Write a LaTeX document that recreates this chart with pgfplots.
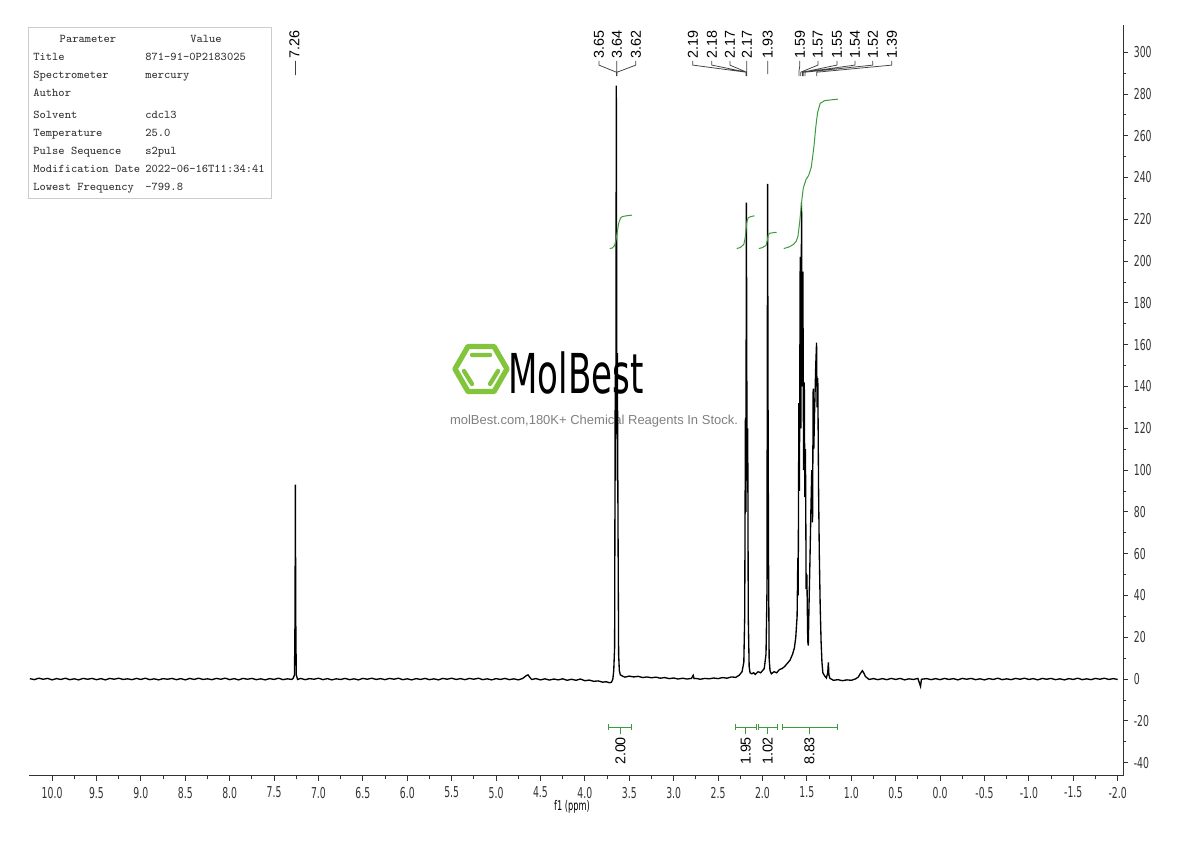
\documentclass[border=0pt]{standalone}
\usepackage{fontspec}
\usepackage{pgfplots}
\pgfplotsset{compat=1.18}
\newfontfamily\condfont{DejaVu Sans}[FakeStretch=0.62]
\newfontfamily\labfont{Liberation Sans}
\definecolor{intgreen}{RGB}{60,155,60}
\definecolor{logogreen}{RGB}{130,196,60}

\begin{document}
\begin{tikzpicture}
\path[use as bounding box] (0,0) rectangle (714pt,504.6pt);

% watermark + parameter box, in pixel units of the reference
\begin{scope}[x=0.6pt,y=-0.6pt,yshift=504.6pt]
  \draw[logogreen,line width=3.2pt,line join=round]
    (507,369)--(494,346.5)--(468,346.5)--(455,369)--(468,391.5)--(494,391.5)--cycle;
  \draw[logogreen,line width=2.6pt,line cap=round]
    (472,355)--(490,355) (464,371)--(472,384) (498,371)--(490,384);
  \node[anchor=west,inner sep=0,font=\condfont\fontsize{33}{33}\selectfont] at (508,373) {MolBest};
  \node[inner sep=0,text=black!50,font=\labfont\fontsize{7.8}{9}\selectfont] at (594,421)
    {molBest.com,180K+ Chemical Reagents In Stock.};

  \draw[black!20,fill=white] (28,27) rectangle (271,198);
  \begin{scope}[every node/.style={inner sep=0,text=black!80,font=\ttfamily\fontsize{7.1}{8}\selectfont}]
    \node at (88,39) {Parameter};
    \node at (206,39) {Value};
    \node[anchor=mid west] at (33,57) {Title};
    \node[anchor=mid west] at (145,57) {871-91-0P2183025};
    \node[anchor=mid west] at (33,75) {Spectrometer};
    \node[anchor=mid west] at (145,75) {mercury};
    \node[anchor=mid west] at (33,93) {Author};
    \node[anchor=mid west] at (33,115) {Solvent};
    \node[anchor=mid west] at (145,115) {cdcl3};
    \node[anchor=mid west] at (33,133) {Temperature};
    \node[anchor=mid west] at (145,133) {25.0};
    \node[anchor=mid west] at (33,151) {Pulse Sequence};
    \node[anchor=mid west] at (145,151) {s2pul};
    \node[anchor=mid west] at (33,169) {Modification Date};
    \node[anchor=mid west] at (145,169) {2022-06-16T11:34:41};
    \node[anchor=mid west] at (33,187) {Lowest Frequency};
    \node[anchor=mid west] at (145,187) {-799.8};
  \end{scope}
  \node[inner sep=0,font=\condfont\fontsize{8}{9}\selectfont] at (572,807) {f1 (ppm)};
\end{scope}

\begin{axis}[
  at={(17.4pt,39pt)}, anchor=south west, scale only axis,
  width=656.4pt, height=450.6pt,
  x dir=reverse,
  xmin=-2.06, xmax=10.26, ymin=-46.4, ymax=313,
  axis x line*=bottom, axis y line*=right,
  axis line style={black!80, line width=0.6pt},
  xtick={-2,-1.5,...,10}, minor x tick num=1,
  ytick={-40,-20,...,300}, minor y tick num=1,
  tick align=outside,
  major tick length=3pt, minor tick length=2pt,
  tick style={black!80, line width=0.5pt},
  /pgf/number format/assume math mode=true,
  ticklabel style={font=\condfont\fontsize{9}{10}\selectfont, text=black!80},
  xticklabel style={/pgf/number format/.cd, fixed, fixed zerofill, precision=1},
  yticklabel style={/pgf/number format/.cd, fixed, precision=0},
  clip=false,
  unbounded coords=jump,
]
% spectrum
\addplot[black, line width=0.8pt] table {
10.25 0.2
10.20 -0.3
10.15 0.4
10.10 -0.1
10.05 0.3
10.00 -0.4
9.95 0.2
9.90 -0.2
9.85 0.4
9.80 -0.3
9.75 0.1
9.70 -0.4
9.65 0.3
9.60 -0.1
9.55 0.3
9.50 -0.3
9.45 0.2
9.40 -0.4
9.35 0.3
9.30 -0.1
9.25 0.4
9.20 -0.2
9.15 0.1
9.10 -0.3
9.05 0.3
9.00 -0.2
8.95 0.4
8.90 -0.3
8.85 0.1
8.80 -0.4
8.75 0.2
8.70 -0.1
8.65 0.3
8.60 -0.3
8.55 0.2
8.50 -0.4
8.45 0.3
8.40 -0.2
8.35 0.4
8.30 -0.2
8.25 0.1
8.20 -0.3
8.15 0.3
8.10 -0.1
8.05 0.4
8.00 -0.3
7.95 0.2
7.90 -0.4
7.85 0.3
7.80 -0.1
7.75 0.3
7.70 -0.3
7.65 0.1
7.60 -0.4
7.55 0.2
7.50 -0.2
7.45 0.4
7.40 -0.3
7.35 0.1
7.30 -0.2
7.285 0.4
7.270 2
7.264 30
7.260 93
7.256 30
7.250 2
7.235 -0.2
7.20 0.3
7.15 -0.3
7.10 0.2
7.05 -0.1
7.00 0.4
6.95 -0.3
6.90 0.2
6.85 -0.4
6.80 0.1
6.75 -0.2
6.70 0.3
6.65 -0.3
6.60 0.1
6.55 -0.4
6.50 0.3
6.45 -0.1
6.40 0.4
6.35 -0.2
6.30 0.2
6.25 -0.3
6.20 0.3
6.15 -0.1
6.10 0.4
6.05 -0.3
6.00 0.1
5.95 -0.4
5.90 0.2
5.85 -0.2
5.80 0.3
5.75 -0.3
5.70 0.1
5.65 -0.4
5.60 0.3
5.55 -0.1
5.50 0.4
5.45 -0.2
5.40 0.2
5.35 -0.3
5.30 0.3
5.25 -0.1
5.20 0.4
5.15 -0.3
5.10 0.1
5.05 -0.4
5.00 0.2
4.95 -0.2
4.90 0.3
4.85 -0.3
4.80 0.1
4.75 -0.4
4.70 0.3
4.66 1.6
4.64 2.0
4.62 0.8
4.60 -0.2
4.55 0.2
4.50 -0.4
4.45 0.1
4.40 -0.5
4.35 0.0
4.30 -0.4
4.25 0.1
4.20 -0.6
4.15 -0.1
4.10 -0.6
4.05 0.0
4.00 -0.8
3.95 -0.5
3.90 -1.1
3.85 -0.9
3.80 -1.5
3.76 -1.3
3.72 -1.8
3.70 -1.5
3.685 0
3.675 4
3.665 15
3.658 145
3.652 95
3.646 284
3.640 150
3.634 156
3.628 85
3.620 12
3.612 4
3.600 2
3.58 1.5
3.55 0.9
3.50 1.4
3.45 1.0
3.40 1.3
3.35 0.7
3.30 1.0
3.25 0.6
3.20 0.9
3.15 0.4
3.10 0.7
3.05 0.2
3.00 0.5
2.95 0.0
2.90 0.4
2.85 0.0
2.80 0.3
2.78 1.8
2.77 0.2
2.75 0.3
2.70 -0.1
2.65 0.3
2.60 0.1
2.55 0.5
2.50 0.2
2.45 0.7
2.40 0.4
2.35 1.0
2.30 0.8
2.26 1.9
2.23 3.5
2.21 8
2.200 30
2.192 125
2.187 80
2.181 228
2.176 140
2.171 95
2.166 120
2.160 30
2.150 6
2.14 3
2.12 2.5
2.10 3.0
2.08 2.2
2.05 3.5
2.02 3
2.00 4
1.98 5
1.960 12
1.950 40
1.942 237
1.938 145
1.932 60
1.925 10
1.915 4
1.90 2.5
1.87 3.5
1.84 3
1.81 4.5
1.78 5
1.75 6
1.72 7.5
1.69 9
1.66 12
1.64 15
1.625 20
1.610 30
1.602 58
1.598 40
1.590 132
1.584 90
1.575 202
1.568 120
1.560 228
1.552 140
1.545 195
1.537 100
1.529 142
1.523 87
1.516 110
1.508 43
1.500 50
1.490 18
1.484 16
1.476 35
1.466 55
1.455 80
1.445 100
1.436 75
1.429 139
1.422 110
1.412 130
1.400 150
1.391 161
1.385 130
1.377 144
1.368 90
1.360 60
1.350 35
1.340 18
1.330 8
1.320 3
1.30 1.5
1.28 0.5
1.265 3
1.258 8
1.252 2
1.24 0.3
1.20 -0.6
1.15 -0.3
1.10 -0.8
1.05 -0.4
1.00 -0.6
0.95 0.1
0.92 1.0
0.90 2.5
0.875 4
0.86 3
0.84 1.2
0.80 -0.2
0.75 0.2
0.70 -0.3
0.65 0.2
0.60 -0.3
0.55 0.3
0.50 -0.2
0.45 0.3
0.40 -0.4
0.35 0.1
0.30 -0.2
0.25 0.3
0.22 -3.5
0.21 -0.1
0.15 0.2
0.10 -0.3
0.05 0.2
0.00 -0.3
-0.05 0.3
-0.10 -0.2
-0.15 0.2
-0.20 -0.4
-0.25 0.3
-0.30 -0.1
-0.35 0.3
-0.40 -0.3
-0.45 0.1
-0.50 -0.4
-0.55 0.2
-0.60 -0.2
-0.65 0.4
-0.70 -0.3
-0.75 0.1
-0.80 -0.3
-0.85 0.3
-0.90 -0.1
-0.95 0.4
-1.00 -0.2
-1.05 0.2
-1.10 -0.4
-1.15 0.3
-1.20 -0.1
-1.25 0.3
-1.30 -0.3
-1.35 0.1
-1.40 -0.4
-1.45 0.2
-1.50 -0.2
-1.55 0.4
-1.60 -0.3
-1.65 0.1
-1.70 -0.3
-1.75 0.3
-1.80 -0.1
-1.85 0.4
-1.90 -0.2
-1.95 0.2
-2.00 -0.2
};

% integral curves
\addplot[intgreen, line width=0.6pt] coordinates {
(3.72,206)(3.69,206.3)(3.665,207.5)(3.65,210)(3.635,214)(3.62,218)(3.60,220.5)(3.58,221.3)(3.53,221.7)(3.47,222)
(nan,nan)
(2.29,206)(2.25,206.5)(2.21,208)(2.195,211)(2.185,215)(2.175,219)(2.16,220.8)(2.13,221.3)(2.09,221.7)
(nan,nan)
(2.04,206)(2.00,206.5)(1.96,207.5)(1.945,210)(1.935,212.5)(1.92,213.3)(1.88,213.6)(1.84,213.8)
(nan,nan)
(1.76,206)(1.70,206.8)(1.65,208)(1.62,209.5)(1.60,212)(1.58,219)(1.56,228)(1.54,235)(1.51,239)(1.48,241)
(1.45,245)(1.42,255)(1.40,264)(1.38,271)(1.35,275.5)(1.30,276.8)(1.22,277.2)(1.15,277.5)
};

% integration bars
\addplot[intgreen, line width=0.6pt] coordinates {
(3.73,-21.4)(3.73,-24.6)(nan,nan)(3.73,-23)(3.47,-23)(nan,nan)(3.47,-21.4)(3.47,-24.6)(nan,nan)(3.60,-23)(3.60,-26.3)(nan,nan)
(2.30,-21.4)(2.30,-24.6)(nan,nan)(2.30,-23)(2.07,-23)(nan,nan)(2.07,-21.4)(2.07,-24.6)(nan,nan)(2.19,-23)(2.19,-26.3)(nan,nan)
(2.04,-21.4)(2.04,-24.6)(nan,nan)(2.04,-23)(1.83,-23)(nan,nan)(1.83,-21.4)(1.83,-24.6)(nan,nan)(1.94,-23)(1.94,-26.3)(nan,nan)
(1.77,-21.4)(1.77,-24.6)(nan,nan)(1.77,-23)(1.16,-23)(nan,nan)(1.16,-21.4)(1.16,-24.6)(nan,nan)(1.47,-23)(1.47,-26.3)
};
\begin{scope}[every node/.style={rotate=90,anchor=east,inner sep=0,font=\labfont\fontsize{8.6}{10}\selectfont}]
  \node at (axis cs:3.60,-27.6) {2.00};
  \node at (axis cs:2.19,-27.6) {1.95};
  \node at (axis cs:1.94,-27.6) {1.02};
  \node at (axis cs:1.47,-27.6) {8.83};
\end{scope}

% peak label leaders
\addplot[black!75, line width=0.45pt] coordinates {
(7.26,289)(7.26,295.8)(nan,nan)
(3.842,295.8)(3.842,293.8)(3.645,290.4)(3.645,288.5)(nan,nan)
(3.64,295.8)(3.64,288.5)(nan,nan)
(3.426,295.8)(3.426,293.8)(3.638,290.4)(3.638,288.5)(nan,nan)
(2.784,295.8)(2.784,293.8)(2.185,290.4)(2.185,288.5)(nan,nan)
(2.570,295.8)(2.570,293.8)(2.180,290.4)(2.180,288.5)(nan,nan)
(2.367,295.8)(2.367,293.8)(2.178,290.4)(2.178,288.5)(nan,nan)
(2.176,295.8)(2.176,293.8)(2.176,290.4)(2.176,288.5)(nan,nan)
(1.94,289.5)(1.94,295.8)(nan,nan)
(1.579,295.8)(1.579,293.8)(1.59,290.4)(1.59,288.5)(nan,nan)
(1.376,295.8)(1.376,293.8)(1.57,290.4)(1.57,288.5)(nan,nan)
(1.162,295.8)(1.162,293.8)(1.55,290.4)(1.55,288.5)(nan,nan)
(0.959,295.8)(0.959,293.8)(1.54,290.4)(1.54,288.5)(nan,nan)
(0.757,295.8)(0.757,293.8)(1.52,290.4)(1.52,288.5)(nan,nan)
(0.543,295.8)(0.543,293.8)(1.39,290.4)(1.39,288.5)
};
\begin{scope}[every node/.style={rotate=90,anchor=west,inner sep=0,font=\labfont\fontsize{8.6}{10}\selectfont}]
  \node at (axis cs:7.27,296.6) {7.26};
  \node at (axis cs:3.842,296.6) {3.65};
  \node at (axis cs:3.64,296.6) {3.64};
  \node at (axis cs:3.426,296.6) {3.62};
  \node at (axis cs:2.784,296.6) {2.19};
  \node at (axis cs:2.570,296.6) {2.18};
  \node at (axis cs:2.367,296.6) {2.17};
  \node at (axis cs:2.176,296.6) {2.17};
  \node at (axis cs:1.94,296.6) {1.93};
  \node at (axis cs:1.579,296.6) {1.59};
  \node at (axis cs:1.376,296.6) {1.57};
  \node at (axis cs:1.162,296.6) {1.55};
  \node at (axis cs:0.959,296.6) {1.54};
  \node at (axis cs:0.757,296.6) {1.52};
  \node at (axis cs:0.543,296.6) {1.39};
\end{scope}
\end{axis}
\end{tikzpicture}
\end{document}
